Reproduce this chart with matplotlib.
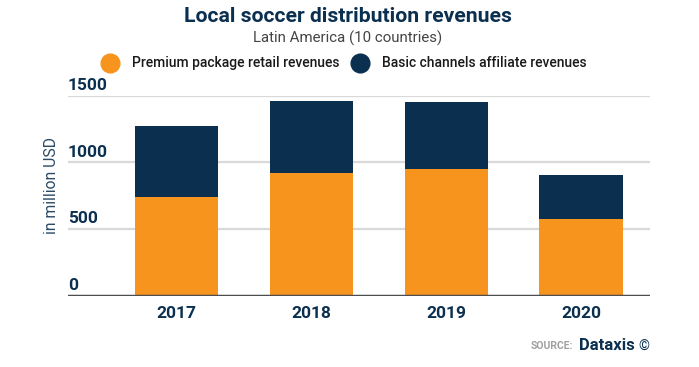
import matplotlib
matplotlib.use('Agg')
from matplotlib import pyplot as plt
from matplotlib.lines import Line2D
import numpy as np

years = ['2017', '2018', '2019', '2020']
premium = [740, 919, 949, 578]
basic = [530, 541, 501, 326]
yticks = [0, 500, 1000, 1500]

ORANGE = '#F7941D'
NAVY = '#0B2F4F'
GRID = '#d9d9d9'

plt.rcParams['font.family'] = ['Roboto', 'DejaVu Sans']

fig = plt.figure(figsize=(6.99, 3.67), dpi=100)
ax = fig.add_axes([68 / 699, 1 - 296 / 367, 582 / 699, (296 - 95.7) / 367])

x = np.arange(len(years))
ax.bar(x, premium, width=0.616, color=ORANGE, zorder=3)
ax.bar(x, basic, width=0.616, bottom=premium, color=NAVY, zorder=3)

ax.set_xlim(-0.806, 3.512)
ax.set_ylim(0, 1500)
for t in yticks[1:]:
    ax.axhline(t, color=GRID, lw=1.6, zorder=1)
ax.axhline(0, color='#4d4d4d', lw=2.5, zorder=4)

for t in yticks:
    ax.annotate(str(t), xy=(0, t), xycoords=('axes fraction', 'data'),
                xytext=(0, 2), textcoords='offset points',
                ha='left', va='bottom', fontsize=12.5, fontweight='bold', color=NAVY)

for s in ax.spines.values():
    s.set_visible(False)
ax.set_yticks([])
ax.set_xticks(x)
ax.set_xticklabels(years, fontsize=12.5, fontweight='bold', color=NAVY)
ax.tick_params(axis='x', length=0, pad=7)

fig.text(52 / 699, 1 - 185 / 367, 'in million USD', rotation=90, ha='center', va='center',
         fontsize=11.3, color='#2b4a66')

# title block
fig.text(347.5 / 699, 1 - 17 / 367, 'Local soccer distribution revenues', ha='center', va='center',
         fontsize=15.2, fontweight='bold', color=NAVY)
fig.text(348 / 699, 1 - 38 / 367, 'Latin America (10 countries)', ha='center', va='center',
         fontsize=10.8, color='#444444')

# legend
fig.add_artist(Line2D([110 / 699], [1 - 63 / 367], marker='o', markersize=13.5,
                      color=ORANGE, linestyle='none', transform=fig.transFigure))
fig.text(132 / 699, 1 - 63 / 367, 'Premium package retail revenues', ha='left', va='center',
         fontsize=10, fontweight='medium', color='#1a1a1a')
fig.add_artist(Line2D([360 / 699], [1 - 63 / 367], marker='o', markersize=13.5,
                      color=NAVY, linestyle='none', transform=fig.transFigure))
fig.text(382 / 699, 1 - 63 / 367, 'Basic channels affiliate revenues', ha='left', va='center',
         fontsize=10, fontweight='medium', color='#1a1a1a')

# source
fig.text(573 / 699, 1 - 346 / 367, 'SOURCE:', ha='right', va='center',
         fontsize=7.5, fontweight='bold', color='#a0a0a0')
fig.text(579 / 699, 1 - 345 / 367, 'Dataxis', ha='left', va='center',
         fontsize=12, fontweight='bold', color=NAVY)
fig.text(644 / 699, 1 - 347 / 367, '\u00a9', ha='center', va='center',
         fontsize=10, color=NAVY)

plt.savefig('out.png', dpi=100)
